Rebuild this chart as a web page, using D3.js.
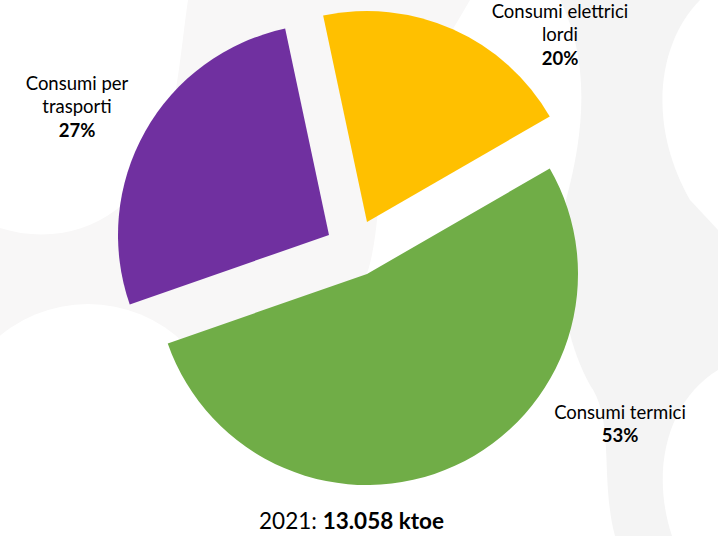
<!DOCTYPE html>
<html>
<head>
<meta charset="utf-8">
<script src="https://cdn.jsdelivr.net/npm/d3@7"></script>
<style>
  html, body { margin: 0; padding: 0; background: #ffffff; }
  svg { display: block; }
  text { font-family: Lato, "Open Sans", sans-serif; fill: #000; }
</style>
</head>
<body>
<svg id="chart" width="718" height="536"></svg>
<script>
// ---- data ----
const categories = ["Consumi elettrici lordi", "Consumi termici", "Consumi per trasporti"];
const labelLines = [["Consumi elettrici", "lordi"], ["Consumi termici"], ["Consumi per", "trasporti"]];
const shares = [20, 53, 27];
const colors = ["#FFC000", "#70AD47", "#7030A0"];
const totalYear = "2021";
const totalValue = "13.058 ktoe";

// ---- layout ----
const W = 718, H = 536;
const cx = 367, cy = 274, R = 211;
const startDeg = -12;
const explode = [[0, -52], [0, 0], [-38, -39]];
const labelPos = [[560, 17.5], [620, 418.5], [77, 89.5]];
const lineH = 23.5;

const svg = d3.select("#chart");

// decorative background
const bg = svg.append("g");
bg.append("path")
  .attr("fill", "#f8f7f7")
  .attr("d", "M188,0 L470,0 C430,70 385,130 378,210 C372,275 362,318 300,336 L0,352 L0,228 C70,250 140,215 165,140 C178,95 182,40 188,0 Z");
bg.append("circle").attr("cx", 88).attr("cy", 442).attr("r", 138).attr("fill", "#ffffff");
bg.append("path")
  .attr("fill", "#f4f4f4")
  .attr("d", "M560,0 L700,0 C660,40 645,120 690,200 L718,230 L718,370 C668,400 650,470 672,536 L615,536 C600,480 615,420 590,385 C560,330 555,260 566,200 C585,130 590,60 560,0 Z");

// pie
const pie = d3.pie().sort(null).value(d => d)
  .startAngle(startDeg * Math.PI / 180)
  .endAngle((startDeg + 360) * Math.PI / 180);
const arc = d3.arc().innerRadius(0).outerRadius(R);
const arcs = pie(shares);

svg.append("g")
  .attr("transform", `translate(${cx},${cy})`)
  .selectAll("path")
  .data(arcs)
  .join("path")
  .attr("transform", (d, i) => `translate(${explode[i][0]},${explode[i][1]})`)
  .attr("d", arc)
  .attr("fill", (d, i) => colors[i]);

// labels
const lg = svg.append("g");
arcs.forEach((d, i) => {
  const t = lg.append("text")
    .attr("x", labelPos[i][0])
    .attr("y", labelPos[i][1])
    .attr("text-anchor", "middle")
    .attr("font-size", 18.5);
  labelLines[i].forEach((ln, k) => {
    t.append("tspan").attr("x", labelPos[i][0]).attr("dy", k === 0 ? 0 : lineH).text(ln);
  });
  t.append("tspan").attr("x", labelPos[i][0]).attr("dy", lineH)
    .attr("font-weight", "bold").text(shares[i] + "%");
});

// total caption
const cap = svg.append("text")
  .attr("x", 351.5).attr("y", 529)
  .attr("text-anchor", "middle")
  .attr("font-size", 22.5);
cap.append("tspan").text(totalYear + ": ");
cap.append("tspan").attr("font-weight", "bold").text(totalValue);
</script>
</body>
</html>
